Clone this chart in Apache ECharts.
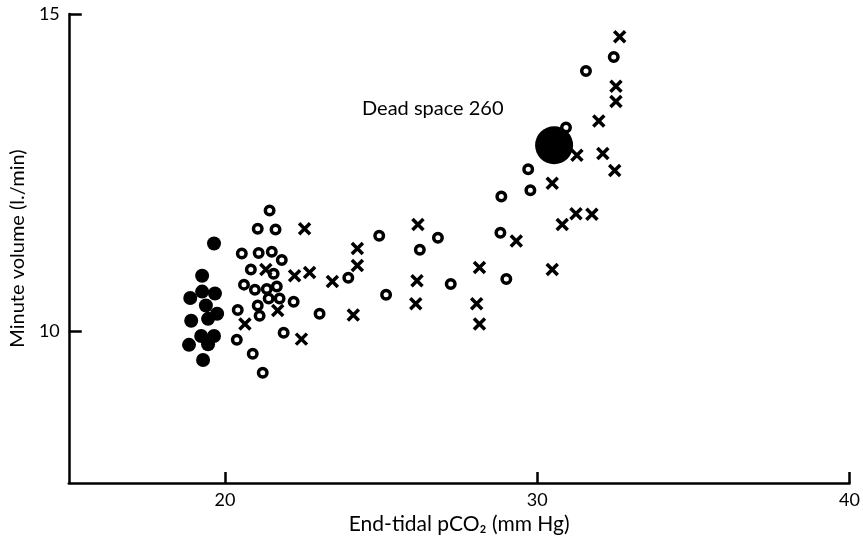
<!DOCTYPE html>
<html>
<head>
<meta charset="utf-8">
<script src="https://cdn.jsdelivr.net/npm/echarts@6/dist/echarts.min.js"></script>
<style>html,body{margin:0;padding:0;background:#fff}#c{width:863px;height:540px}</style>
</head>
<body>
<div id="c"></div>
<script>
// End-tidal pCO2 (mm Hg) vs Minute volume (l./min)
const filledSmall = [
  [19.65,11.38],[19.27,10.87],[18.89,10.52],[19.27,10.62],[19.68,10.59],
  [19.39,10.40],[18.92,10.16],[19.46,10.19],[19.75,10.27],[19.24,9.92],
  [19.65,9.92],[19.46,9.79],[18.85,9.78],[19.30,9.54]
];
const openCircles = [
  [21.43,11.90],[21.05,11.61],[21.62,11.60],[20.54,11.22],[21.08,11.23],
  [21.50,11.25],[21.82,11.12],[20.83,10.97],[21.56,10.90],[20.61,10.73],
  [20.96,10.65],[21.34,10.66],[21.66,10.70],[21.40,10.51],[21.75,10.51],
  [22.20,10.46],[21.05,10.40],[20.41,10.33],[21.11,10.24],[23.03,10.27],
  [21.88,9.97],[20.38,9.86],[20.89,9.64],[21.21,9.34],[23.95,10.84],
  [25.16,10.57],[24.94,11.50],[26.24,11.28],[26.82,11.47],[27.23,10.74],
  [29.01,10.82],[28.82,11.55],[28.85,12.12],[29.78,12.22],[29.71,12.55],
  [30.92,13.21],[31.56,14.10],[32.45,14.32]
];
const crosses = [
  [32.64,14.64],[32.52,13.86],[32.52,13.62],[31.97,13.31],[31.27,12.77],
  [32.10,12.80],[32.48,12.53],[30.48,12.33],[31.75,11.84],[31.24,11.85],
  [30.80,11.68],[29.33,11.42],[30.48,10.97],[28.15,11.00],[28.06,10.43],
  [28.15,10.11],[26.18,11.68],[26.15,10.79],[26.11,10.43],[24.24,11.30],
  [24.24,11.03],[24.11,10.25],[23.44,10.78],[22.71,10.92],[22.55,11.61],
  [22.23,10.87],[21.31,10.97],[21.69,10.32],[20.64,10.11],[22.45,9.87]
];
const deadSpace = [[30.54,12.93]];
const xTicks = [20,30,40];
const yTicks = [10,15];
const annotation = 'Dead space 260';

const ink = '#000';
const font = 'Lato, "Open Sans", sans-serif';
const chart = echarts.init(document.getElementById('c'), null, {renderer:'canvas'});
chart.setOption({
  animation:false,
  backgroundColor:'#fff',
  grid:{left:66,right:11,top:14,bottom:57,containLabel:false},
  xAxis:{
    type:'value',min:15,max:40,
    name:'End-tidal pCO₂ (mm Hg)',nameLocation:'middle',nameGap:30,
    nameTextStyle:{color:ink,fontSize:21,fontFamily:font},
    axisLine:{show:true,onZero:false,lineStyle:{color:ink,width:2.5}},
    axisTick:{show:true,inside:true,length:11,customValues:xTicks,lineStyle:{color:ink,width:2.5}},
    axisLabel:{customValues:xTicks,color:ink,fontSize:18,fontFamily:font,margin:8},
    splitLine:{show:false}
  },
  yAxis:{
    type:'value',min:7.6,max:15,
    name:'Minute volume (l./min)',nameLocation:'middle',nameGap:31,
    nameTextStyle:{color:ink,fontSize:20,fontFamily:font},
    axisLine:{show:true,onZero:false,lineStyle:{color:ink,width:2.5}},
    axisTick:{show:true,inside:true,length:13,customValues:yTicks,lineStyle:{color:ink,width:2.5}},
    axisLabel:{customValues:yTicks,color:ink,fontSize:18,fontFamily:font,margin:9},
    splitLine:{show:false}
  },
  graphic:[{type:'text',left:362,top:99,style:{text:annotation,fill:ink,font:'20px '+font}}],
  series:[
    {type:'scatter',data:filledSmall,symbol:'circle',symbolSize:14,itemStyle:{color:ink,opacity:1}},
    {type:'scatter',data:openCircles,symbol:'circle',symbolSize:8.5,
      itemStyle:{color:'rgba(0,0,0,0)',borderColor:ink,borderWidth:3.5,opacity:1}},
    {type:'scatter',data:crosses,symbol:'path://M0,0 L10,10 M10,0 L0,10',symbolSize:11,
      itemStyle:{color:'rgba(0,0,0,0)',borderColor:ink,borderWidth:3.5,opacity:1}},
    {type:'scatter',data:deadSpace,symbol:'circle',symbolSize:38,itemStyle:{color:ink,opacity:1}}
  ]
});
</script>
</body>
</html>
